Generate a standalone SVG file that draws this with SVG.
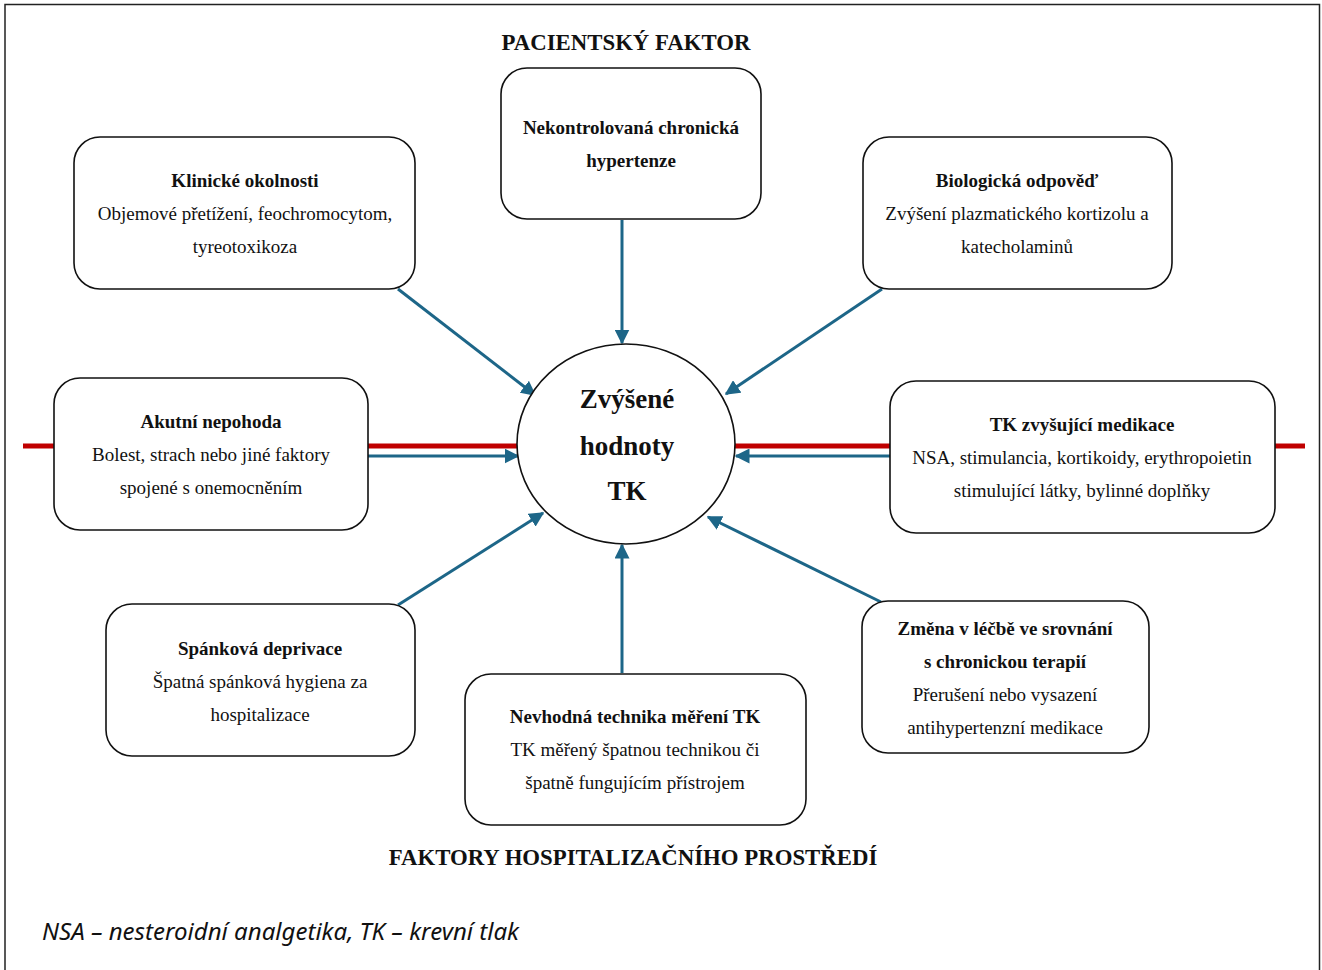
<svg xmlns="http://www.w3.org/2000/svg" width="1322" height="970" viewBox="0 0 1322 970">
  <style>
    .box { fill: #ffffff; stroke: #111111; stroke-width: 1.6; }
    .t { font-family: "Liberation Serif", "Times New Roman", serif; font-size: 19px; fill: #111111; text-anchor: middle; }
    .b { font-weight: bold; }
    .title { font-family: "Liberation Serif", "Times New Roman", serif; font-size: 22.8px; font-weight: bold; fill: #111111; text-anchor: middle; }
    .center { font-family: "Liberation Serif", "Times New Roman", serif; font-size: 27px; font-weight: bold; fill: #111111; text-anchor: middle; }
    .arrow { stroke: #1d6688; stroke-width: 3; fill: none; marker-end: url(#ah); }
    .red { stroke: #c00000; stroke-width: 5; fill: none; }
    .note { font-family: "Noto Sans", "Open Sans", sans-serif; font-style: italic; font-size: 23px; fill: #111111; }
  </style>
  <defs>
    <marker id="ah" viewBox="0 0 10 10" refX="9" refY="5" markerWidth="5" markerHeight="5" orient="auto" markerUnits="strokeWidth">
      <path d="M0,0 L10,5 L0,10 z" fill="#1d6688"/>
    </marker>
  </defs>

  <rect width="1322" height="970" fill="#ffffff"/>
  <!-- frame -->
  <path d="M5,975 V4.5 H1319.5 V975" fill="none" stroke="#222222" stroke-width="1.5"/>

  <!-- horizontal red axis -->
  <g id="axis">
    <line class="red" x1="23" y1="446" x2="56" y2="446"/>
    <line class="red" x1="366" y1="446" x2="519" y2="446"/>
    <line class="red" x1="733" y1="446" x2="892" y2="446"/>
    <line class="red" x1="1273" y1="446" x2="1305" y2="446"/>
  </g>

  <!-- connectors -->
  <g id="connectors">
    <line class="arrow" x1="622" y1="220" x2="622" y2="343"/>
    <line class="arrow" x1="398" y1="289" x2="535" y2="395"/>
    <line class="arrow" x1="882" y1="289" x2="726" y2="394"/>
    <line class="arrow" x1="368" y1="456" x2="518" y2="456"/>
    <line class="arrow" x1="890" y1="456" x2="736" y2="456"/>
    <line class="arrow" x1="398" y1="605" x2="543" y2="513"/>
    <line class="arrow" x1="622" y1="673" x2="622" y2="545"/>
    <line class="arrow" x1="881" y1="602" x2="708" y2="517"/>
  </g>

  <text class="title" x="626" y="50">PACIENTSKÝ FAKTOR</text>
  <text class="title" x="633" y="865">FAKTORY HOSPITALIZAČNÍHO PROSTŘEDÍ</text>

  <g id="center-node">
    <ellipse cx="626" cy="444" rx="109" ry="100" fill="#ffffff" stroke="#111111" stroke-width="1.6"/>
    <text class="center" x="627" y="408">Zvýšené</text>
    <text class="center" x="627" y="455">hodnoty</text>
    <text class="center" x="627" y="500">TK</text>
  </g>

  <g id="n-hypertenze">
    <rect class="box" x="501" y="68" width="260" height="151" rx="26"/>
    <text class="t b" x="631" y="134">Nekontrolovaná chronická</text>
    <text class="t b" x="631" y="167">hypertenze</text>
  </g>

  <g id="n-klinicke">
    <rect class="box" x="74" y="137" width="341" height="152" rx="26"/>
    <text class="t b" x="245" y="187">Klinické okolnosti</text>
    <text class="t" x="245" y="220">Objemové přetížení, feochromocytom,</text>
    <text class="t" x="245" y="253">tyreotoxikoza</text>
  </g>

  <g id="n-biologicka">
    <rect class="box" x="863" y="137" width="309" height="152" rx="26"/>
    <text class="t b" x="1017" y="187">Biologická odpověď</text>
    <text class="t" x="1017" y="220">Zvýšení plazmatického kortizolu a</text>
    <text class="t" x="1017" y="253">katecholaminů</text>
  </g>

  <g id="n-akutni">
    <rect class="box" x="54" y="378" width="314" height="152" rx="26"/>
    <text class="t b" x="211" y="428">Akutní nepohoda</text>
    <text class="t" x="211" y="461">Bolest, strach nebo jiné faktory</text>
    <text class="t" x="211" y="494">spojené s onemocněním</text>
  </g>

  <g id="n-medikace">
    <rect class="box" x="890" y="381" width="385" height="152" rx="26"/>
    <text class="t b" x="1082" y="431">TK zvyšující medikace</text>
    <text class="t" x="1082" y="464">NSA, stimulancia, kortikoidy, erythropoietin</text>
    <text class="t" x="1082" y="497">stimulující látky, bylinné doplňky</text>
  </g>

  <g id="n-spankova">
    <rect class="box" x="106" y="604" width="309" height="152" rx="26"/>
    <text class="t b" x="260" y="655">Spánková deprivace</text>
    <text class="t" x="260" y="688">Špatná spánková hygiena za</text>
    <text class="t" x="260" y="721">hospitalizace</text>
  </g>

  <g id="n-technika">
    <rect class="box" x="465" y="674" width="341" height="151" rx="26"/>
    <text class="t b" x="635" y="723">Nevhodná technika měření TK</text>
    <text class="t" x="635" y="756">TK měřený špatnou technikou či</text>
    <text class="t" x="635" y="789">špatně fungujícím přístrojem</text>
  </g>

  <g id="n-zmena">
    <rect class="box" x="862" y="601" width="287" height="152" rx="26"/>
    <text class="t b" x="1005" y="635">Změna v léčbě ve srovnání</text>
    <text class="t b" x="1005" y="668">s chronickou terapií</text>
    <text class="t" x="1005" y="701">Přerušení nebo vysazení</text>
    <text class="t" x="1005" y="734">antihypertenzní medikace</text>
  </g>

  <text class="note" x="42" y="940" textLength="477" lengthAdjust="spacingAndGlyphs">NSA – nesteroidní analgetika, TK – krevní tlak</text>
</svg>
